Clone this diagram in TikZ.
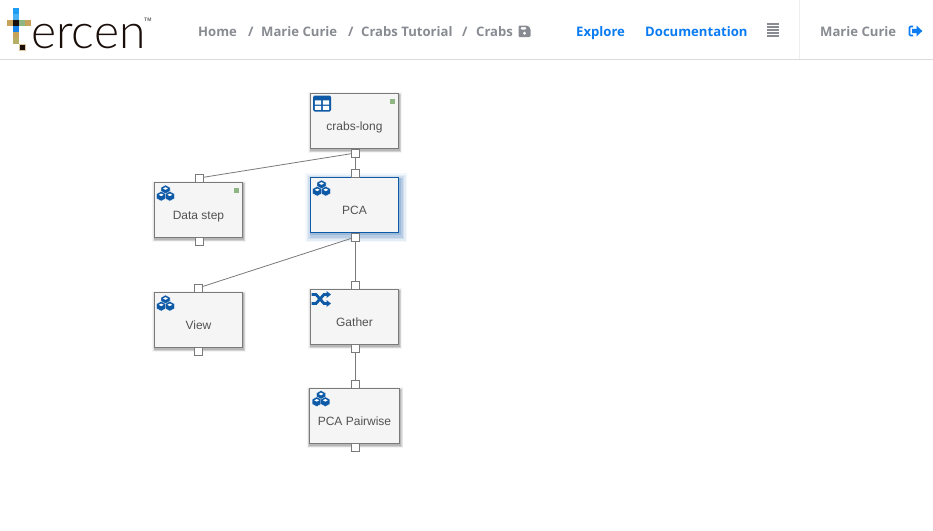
\documentclass[tikz,border=0pt]{standalone}
\usepackage{fontspec}
\setmainfont{Liberation Sans}
\newfontfamily\navfont{Open Sans}
\newfontfamily\logofont{Lato Light}
\definecolor{navgray}{HTML}{888C92}
\definecolor{navblue}{HTML}{0A7BF2}
\definecolor{iconblue}{HTML}{0F5AA6}
\definecolor{stepgray}{HTML}{7A7A7A}
\definecolor{stepfill}{HTML}{F5F5F5}
\definecolor{lgblue}{HTML}{1E9DF5}
\definecolor{lgblueb}{HTML}{1583E8}
\definecolor{lgtan}{HTML}{C6A25A}
\definecolor{lggreen}{HTML}{90B585}
\definecolor{lgolive}{HTML}{B6B066}
\definecolor{lgblack}{HTML}{1A0E0A}
\tikzset{
  softshadow/.style={
    preaction={draw=black,draw opacity=.04,line width=6pt,transform canvas={shift={(.5pt,-1.5pt)}}},
    preaction={draw=black,draw opacity=.06,line width=4.5pt,transform canvas={shift={(.5pt,-1.5pt)}}},
    preaction={draw=black,draw opacity=.09,line width=3pt,transform canvas={shift={(.5pt,-1.5pt)}}},
    preaction={draw=black,draw opacity=.12,line width=1.5pt,transform canvas={shift={(.5pt,-1.5pt)}}}},
  stepbox/.style={draw=stepgray,fill=stepfill,line width=.9pt,inner sep=0pt,outer sep=0pt,
    minimum height=55pt,text height=18pt,text depth=0pt,text=black!68,font=\fontsize{12}{14}\selectfont,softshadow},
  glowbox/.style={draw=iconblue,fill=stepfill,line width=.9pt,inner sep=0pt,outer sep=0pt,
    minimum height=55pt,minimum width=88pt,text height=18pt,text depth=0pt,text=black!68,font=\fontsize{12}{14}\selectfont,
    preaction={draw=iconblue,draw opacity=.04,line width=14pt,transform canvas={shift={(1.5pt,-2.5pt)}}},
    preaction={draw=iconblue,draw opacity=.07,line width=11pt,transform canvas={shift={(1.5pt,-2.5pt)}}},
    preaction={draw=iconblue,draw opacity=.09,line width=8pt,transform canvas={shift={(1.5pt,-2.5pt)}}},
    preaction={draw=iconblue,draw opacity=.12,line width=5pt,transform canvas={shift={(1.5pt,-2.5pt)}}},
    preaction={draw=iconblue,draw opacity=.16,line width=2.5pt,transform canvas={shift={(1pt,-1.5pt)}}}},
  portbox/.style={draw=stepgray,fill=white,line width=.8pt,minimum size=8pt,inner sep=0pt,outer sep=0pt},
  link/.style={draw=stepgray,line width=.8pt},
  status/.style={fill=lggreen,minimum size=5pt,inner sep=0pt},
  navitem/.style={anchor=base west,inner sep=0pt,font=\navfont\bfseries\fontsize{13.1}{16}\selectfont},
  crumb/.style={navitem,text=navgray},
  toplink/.style={navitem,text=navblue},
  lgcell/.style={minimum size=6.2pt,inner sep=0pt,outer sep=0pt},
  pics/cubes/.style={code={
    \foreach \cx/\cy in {0/-3.6,-4.3/2.7,4.3/2.7}{
      \begin{scope}[shift={(\cx,\cy)}]
      \fill[iconblue,draw=white,line width=.3pt] (0,-4.9)--(4.5,-2.45)--(4.5,2.45)--(0,4.9)--(-4.5,2.45)--(-4.5,-2.45)--cycle;
      \fill[white] (0,-2.7)--(2.4,-1.4)--(0,-.1)--(-2.4,-1.4)--cycle;
      \end{scope}}
  }},
  pics/gridicon/.style={code={
    \fill[iconblue,rounded corners=1.5pt] (-9,-8)rectangle(9,8);
    \fill[white] (-7.2,-3.2)rectangle(-.8,1) (.8,-3.2)rectangle(7.2,1) (-7.2,2.4)rectangle(-.8,6.4) (.8,2.4)rectangle(7.2,6.4);
  }},
  pics/shuffleicon/.style={code={
    \draw[iconblue,line width=2.8pt] (-9.5,-4.5)--(-5,-4.5)--(3,4.5)--(6,4.5) (-9.5,4.5)--(-5,4.5)--(3,-4.5)--(6,-4.5);
    \fill[iconblue] (5.5,-8)--(10,-4.5)--(5.5,-1)--cycle (5.5,1)--(10,4.5)--(5.5,8)--cycle;
  }}
}
\begin{document}
\begin{tikzpicture}[x=1pt,y=-1pt]
\useasboundingbox (0,0) rectangle (933,530);
\fill[white] (0,0) rectangle (933,530);
% header
\draw[black!14,line width=1pt] (0,59.5) -- (933,59.5);
\draw[black!7,line width=1pt] (799.5,0) -- (799.5,59);
% logo
\node[lgcell,fill=lgblue] (l1) at (16,11) {};
\node[lgcell,fill=lgblue!80!white] (l2) at (16,17) {};
\node[lgcell,fill=lgtan] (l3) at (10,23) {};
\node[lgcell,fill=lgblack] (l4) at (16,23) {};
\node[lgcell,fill=lggreen] (l5) at (22,23) {};
\node[lgcell,fill=lgtan] (l6) at (28,23) {};
\node[lgcell,fill=lgblueb] (l7) at (16,29) {};
\node[lgcell,fill=lgtan] (l8) at (16,35) {};
\node[lgcell,fill=lgolive] (l9) at (16,41) {};
\node[lgcell,fill=lgblack,draw=lgtan!60,line width=.5pt] (l10) at (22,47) {};
\node[anchor=base west,inner sep=0pt,text=lgblack,font=\logofont\fontsize{48}{50}\selectfont] (logotext) at (31,48) {ercen};
\node[anchor=base west,inner sep=0pt,text=black!60,font=\bfseries\fontsize{5}{6}\selectfont] (tm) at (144,21) {TM};
% breadcrumbs
\node[crumb] (home) at (198,36) {Home};
\node[crumb] (s1) at (248,36) {/};
\node[crumb] (mc) at (261,36) {Marie Curie};
\node[crumb] (s2) at (348,36) {/};
\node[crumb] (tut) at (361,36) {Crabs Tutorial};
\node[crumb] (s3) at (462,36) {/};
\node[crumb] (crabs) at (476,36) {Crabs};
% save icon
\fill[navgray,rounded corners=1.2pt,even odd rule] (518.5,25.5)--(527.5,25.5)--(530.5,28.5)--(530.5,37)--(518.5,37)--cycle
  (520.5,27)rectangle(526.5,29.5);
\fill[white] (524.5,33.3) circle (1.6);
\node[toplink] (explore) at (576,36) {Explore};
\node[toplink] (docs) at (645,36) {Documentation};
\draw[navgray,line width=1.7pt] (767,24.3)--(779,24.3) (767,27.2)--(779,27.2) (767,30.1)--(779,30.1) (767,33)--(779,33) (767,35.9)--(779,35.9);
\node[crumb] (user) at (820,36) {Marie Curie};
% logout icon
\draw[navblue,line width=1.7pt,rounded corners=1pt] (913,26.5)--(909.5,26.5)--(909.5,35.5)--(913,35.5);
\fill[navblue] (912,28.8)--(916.5,28.8)--(916.5,25.5)--(922.3,31)--(916.5,36.5)--(916.5,33.2)--(912,33.2)--cycle;
% steps
\node[stepbox,minimum width=88pt] (crabslong) at (354.5,121) {crabs-long};
\node[stepbox,minimum width=88pt] (datastep) at (198.5,210) {Data step};
\node[glowbox] (pca) at (354.5,205) {PCA};
\node[stepbox,minimum width=88pt] (view) at (198.5,320) {View};
\node[stepbox,minimum width=88pt] (gather) at (354.5,317) {Gather};
\node[stepbox,minimum width=90.5pt] (pairwise) at (354.5,416) {PCA Pairwise};
% ports coordinates
\coordinate (p1) at (355.5,153);
\coordinate (p2) at (355.5,173);
\coordinate (p3) at (199,178);
\coordinate (p5) at (355.5,237);
\coordinate (p6) at (198,288);
\coordinate (p7) at (355.5,285);
\coordinate (p8) at (355.5,348.5);
\coordinate (p9) at (355.5,384);
% links
\draw[link] (p1) -- (p2);
\draw[link] (p1) -- (p3);
\draw[link] (p5) -- (p6);
\draw[link] (p5) -- (p7);
\draw[link] (p8) -- (p9);
% ports
\node[portbox] (q1) at (p1) {};
\node[portbox] (q2) at (p2) {};
\node[portbox] (q3) at (p3) {};
\node[portbox] (q4) at (199,241.5) {};
\node[portbox] (q5) at (p5) {};
\node[portbox] (q6) at (p6) {};
\node[portbox] (q7) at (p7) {};
\node[portbox] (q8) at (p8) {};
\node[portbox] (q9) at (p9) {};
\node[portbox] (q10) at (198,351.5) {};
\node[portbox] (q11) at (355.5,447.5) {};
% icons
\pic at (321.5,188.5) {cubes};
\pic at (165.5,193.5) {cubes};
\pic at (165.5,303.5) {cubes};
\pic at (321,399) {cubes};
\pic at (322,103.5) {gridicon};
\pic at (321,299) {shuffleicon};
\node[status] (st1) at (392,101) {};
\node[status] (st2) at (236,190) {};
\end{tikzpicture}
\end{document}
